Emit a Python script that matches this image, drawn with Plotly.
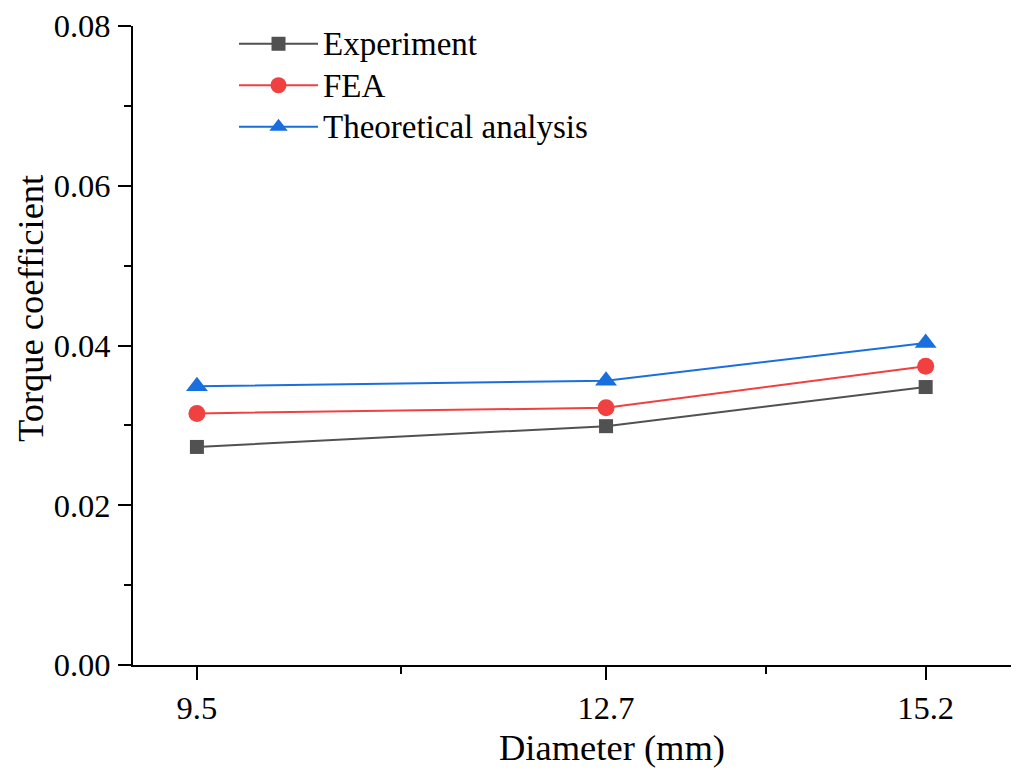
import plotly.graph_objects as go

diameters = [9.5, 12.7, 15.2]
experiment = [0.0273, 0.0299, 0.0348]
fea = [0.0315, 0.0322, 0.0374]
theoretical = [0.0349, 0.0356, 0.0403]

x_ticks = [9.5, 12.7, 15.2]
x_minor = [11.1, 13.95]
y_ticks = [0.0, 0.02, 0.04, 0.06, 0.08]

OFF = 8  # browser body margin
W, H = 1019 - OFF, 772 - OFF
L, R, T, B = 133 - OFF, 0, 24 - OFF, 107
FONT = "Liberation Serif, Times New Roman, serif"
pw = W - L - R
ph = H - T - B


def px_x(sx):
    return (sx - OFF - L) / pw


def px_y(sy):
    return ((H - B) - (sy - OFF)) / ph


fig = go.Figure()
series = [
    ("Experiment", experiment, "#515151", "square", 14),
    ("FEA", fea, "#F14040", "circle", 17),
    ("Theoretical analysis", theoretical, "#1A6FDF", "triangle-up", 19),
]
for name, vals, col, sym, sz in series:
    fig.add_trace(go.Scatter(
        x=diameters, y=vals,
        name=f'<span style="font-size:33px">{name}</span>',
        mode="lines+markers",
        line=dict(color=col, width=2),
        marker=dict(symbol=sym, size=sz, color=col, line=dict(width=0)),
    ))

axis_common = dict(
    showline=True, linecolor="black", linewidth=2,
    ticks="outside", tickcolor="black", tickwidth=2, ticklen=13,
    showgrid=False, zeroline=False, mirror=False,
    tickfont=dict(family=FONT, size=32.5, color="black"),
    ticklabeloverflow="allow",
)
fig.update_xaxes(
    range=[9.0, 15.93], tickmode="array", tickvals=x_ticks,
    ticktext=[str(v) for v in x_ticks],
    minor=dict(tickmode="array", tickvals=x_minor, ticks="outside",
               ticklen=7, tickwidth=2, tickcolor="black"),
    ticklabelstandoff=0,
    **axis_common,
)
fig.update_yaxes(
    range=[0, 0.08], tickmode="array", tickvals=y_ticks,
    ticktext=[f"{v:.2f}" for v in y_ticks],
    minor=dict(dtick=0.01, tick0=0, ticks="outside",
               ticklen=7, tickwidth=2, tickcolor="black"),
    ticklabelstandoff=1,
    **axis_common,
)

fig.add_annotation(
    text="Diameter (mm)", xref="paper", yref="paper",
    x=px_x(612), y=px_y(748),
    showarrow=False, font=dict(family=FONT, size=36.5, color="black"),
    xanchor="center", yanchor="middle",
)
fig.add_annotation(
    text="Torque coefficient", xref="paper", yref="paper",
    x=px_x(30), y=px_y(308), textangle=-90,
    showarrow=False, font=dict(family=FONT, size=36.5, color="black"),
    xanchor="center", yanchor="middle",
)

fig.update_layout(
    width=W, height=H,
    margin=dict(l=L, r=R, t=T, b=B, pad=0),
    paper_bgcolor="white", plot_bgcolor="white",
    showlegend=True,
    legend=dict(
        x=px_x(234), y=px_y(16), xanchor="left", yanchor="top",
        bgcolor="rgba(0,0,0,0)", borderwidth=0,
        font=dict(family=FONT, size=29.6, color="black"),
        tracegroupgap=0, itemwidth=79,
    ),
)

fig.write_html("out.html")
